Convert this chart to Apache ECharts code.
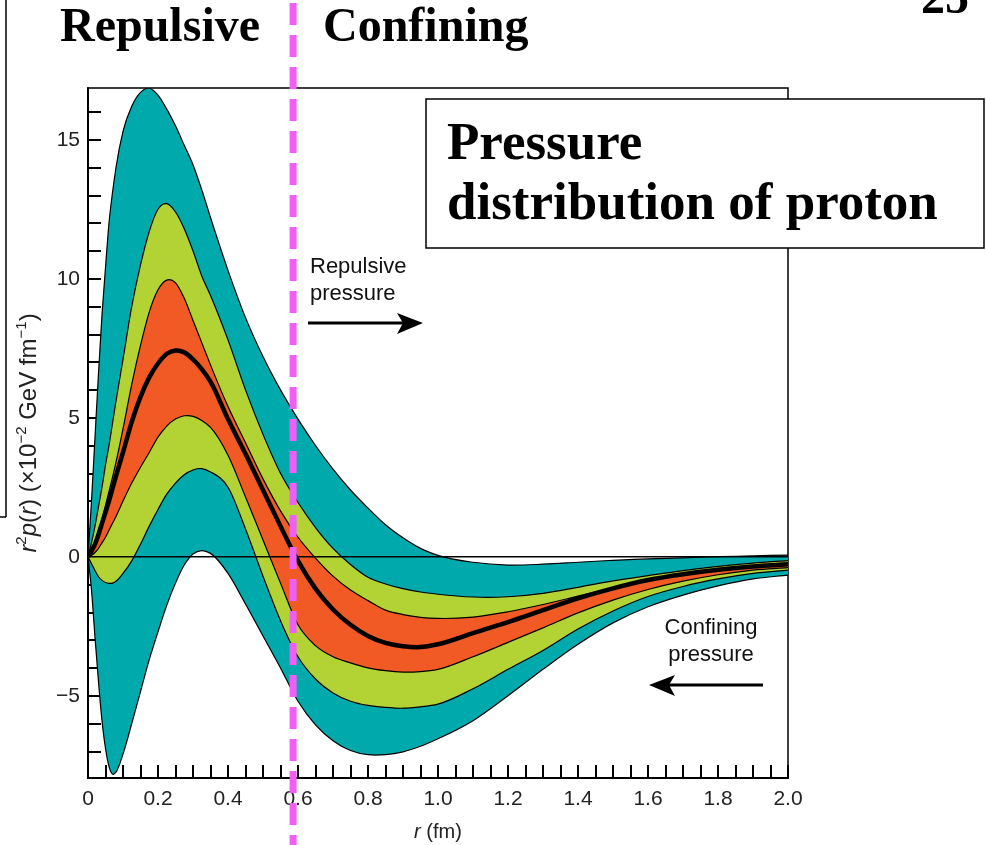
<!DOCTYPE html>
<html>
<head>
<meta charset="utf-8">
<script src="https://cdn.jsdelivr.net/npm/echarts@6/dist/echarts.min.js"></script>
<style>
html,body{margin:0;padding:0;background:#fff;}
#c{width:986px;height:845px;}
</style>
</head>
<body>
<div id="c"></div>
<script>
// ---- data ----
const rGrid = [0, 0.01, 0.02, 0.03, 0.04, 0.05, 0.06, 0.07, 0.08, 0.1, 0.125, 0.15, 0.175, 0.2, 0.225, 0.25, 0.275, 0.3, 0.325, 0.35, 0.4, 0.45, 0.5, 0.55, 0.6, 0.65, 0.7, 0.75, 0.8, 0.85, 0.9, 0.95, 1.0, 1.1, 1.2, 1.3, 1.4, 1.5, 1.6, 1.7, 1.8, 1.9, 2.0];

const tealUpper = [0, 2.0, 4.3, 6.6, 8.7, 10.4, 12.0, 13.1, 14.0, 15.3, 16.2, 16.7, 16.85, 16.6, 16.1, 15.5, 14.8, 14.1, 13.2, 12.2, 10.3, 8.6, 7.2, 6.0, 4.95, 4.0, 3.15, 2.4, 1.75, 1.15, 0.68, 0.3, 0.05, -0.2, -0.3, -0.27, -0.2, -0.13, -0.08, -0.04, 0.0, 0.03, 0.06];
const greenUpper = [0, 0.5, 1.1, 1.8, 2.5, 3.3, 4.0, 4.8, 5.6, 7.1, 9.0, 10.5, 11.7, 12.5, 12.7, 12.4, 11.8, 11.0, 10.1, 9.4, 7.8, 6.0, 4.4, 3.0, 1.95, 1.05, 0.3, -0.28, -0.74, -0.98, -1.15, -1.27, -1.35, -1.45, -1.44, -1.32, -1.1, -0.87, -0.68, -0.5, -0.35, -0.23, -0.14];
const orangeUpper = [0, 0.22, 0.55, 0.95, 1.35, 1.85, 2.35, 2.85, 3.4, 4.6, 6.2, 7.6, 8.8, 9.6, 9.95, 9.85, 9.3, 8.5, 7.7, 6.9, 5.4, 4.1, 2.8, 1.65, 0.7, -0.05, -0.7, -1.2, -1.58, -1.92, -2.08, -2.18, -2.22, -2.17, -1.98, -1.72, -1.42, -1.12, -0.84, -0.62, -0.45, -0.32, -0.22];
const central = [0, 0.2, 0.45, 0.8, 1.2, 1.6, 2.0, 2.45, 2.9, 3.75, 4.85, 5.75, 6.45, 6.95, 7.3, 7.42, 7.35, 7.1, 6.75, 6.3, 4.95, 3.7, 2.4, 1.1, -0.15, -1.15, -1.9, -2.45, -2.85, -3.1, -3.22, -3.25, -3.15, -2.75, -2.35, -1.92, -1.5, -1.14, -0.84, -0.63, -0.47, -0.35, -0.27];
const orangeLower = [0, 0.05, 0.15, 0.3, 0.5, 0.7, 0.95, 1.2, 1.45, 2.0, 2.65, 3.22, 3.75, 4.3, 4.7, 4.95, 5.07, 5.05, 4.9, 4.65, 3.65, 2.15, 0.6, -0.95, -2.45, -3.2, -3.6, -3.82, -4.0, -4.1, -4.15, -4.13, -4.05, -3.6, -3.08, -2.56, -2.02, -1.56, -1.18, -0.88, -0.65, -0.48, -0.39];
const greenLower = [0, -0.25, -0.5, -0.72, -0.85, -0.93, -0.96, -0.95, -0.88, -0.6, -0.15, 0.45, 1.1, 1.7, 2.25, 2.65, 2.95, 3.12, 3.17, 3.05, 2.5, 1.0, -0.7, -2.3, -3.6, -4.4, -4.9, -5.2, -5.35, -5.42, -5.45, -5.4, -5.3, -4.75, -4.05, -3.37, -2.6, -1.95, -1.43, -1.07, -0.8, -0.6, -0.48];
const tealLower = [0, -1.2, -2.9, -4.5, -5.9, -6.9, -7.55, -7.82, -7.75, -7.1, -6.0, -4.85, -3.7, -2.7, -1.75, -0.95, -0.3, 0.1, 0.22, 0.12, -0.6, -1.7, -2.85, -4.0, -5.2, -6.05, -6.62, -6.97, -7.12, -7.12, -7.02, -6.82, -6.55, -5.9, -5.0, -4.05, -3.15, -2.38, -1.8, -1.38, -1.05, -0.8, -0.66];

const xTickLabels = [0, 0.2, 0.4, 0.6, 0.8, 1.0, 1.2, 1.4, 1.6, 1.8, 2.0];
const yTickLabels = [-5, 0, 5, 10, 15];
const yMinorTicks = [-7, -6, -5, -4, -3, -2, -1, 0, 1, 2, 3, 4, 5, 6, 7, 8, 9, 10, 11, 12, 13, 14, 15, 16];
const xMinorTicks = [];
for (let k = 0; k <= 40; k++) xMinorTicks.push(+(k * 0.05).toFixed(2));
const dividerR = 0.586;

// ---- chart ----
const SANS = '"Liberation Sans", Arial, Helvetica, sans-serif';
const SERIF = '"Liberation Serif", "Times New Roman", serif';
const chart = echarts.init(document.getElementById('c'), null, {renderer: 'canvas'});

// smooth curve through pixel points (x monotone), cubic Hermite -> Bezier
function curveSegments(pts) {
  const n = pts.length, m = new Array(n);
  for (let i = 0; i < n; i++) {
    if (i === 0) m[i] = (pts[1][1] - pts[0][1]) / (pts[1][0] - pts[0][0]);
    else if (i === n - 1) m[i] = (pts[i][1] - pts[i - 1][1]) / (pts[i][0] - pts[i - 1][0]);
    else {
      const h0 = pts[i][0] - pts[i - 1][0], h1 = pts[i + 1][0] - pts[i][0];
      const d0 = (pts[i][1] - pts[i - 1][1]) / h0, d1 = (pts[i + 1][1] - pts[i][1]) / h1;
      m[i] = (d0 * h1 + d1 * h0) / (h0 + h1);
    }
  }
  let s = '';
  for (let i = 0; i < n - 1; i++) {
    const h = pts[i + 1][0] - pts[i][0];
    const c1x = pts[i][0] + h / 3, c1y = pts[i][1] + m[i] * h / 3;
    const c2x = pts[i + 1][0] - h / 3, c2y = pts[i + 1][1] - m[i + 1] * h / 3;
    s += ' C' + c1x.toFixed(2) + ',' + c1y.toFixed(2) + ' ' + c2x.toFixed(2) + ',' + c2y.toFixed(2) + ' ' +
         pts[i + 1][0].toFixed(2) + ',' + pts[i + 1][1].toFixed(2);
  }
  return s;
}
function toPx(api, arr) { return rGrid.map((r, i) => api.coord([r, arr[i]])); }
function openPath(p) { return 'M' + p[0][0].toFixed(2) + ',' + p[0][1].toFixed(2) + curveSegments(p); }
function bandPath(up, lo) {
  const loRev = lo.slice().reverse().map(q => [q[0], q[1]]);
  const rev = loRev.map(q => [-q[0], q[1]]);
  const segRev = curveSegments(rev).replace(/(-?\d+\.\d+),(-?\d+\.\d+)/g, (a, x, y) => (-parseFloat(x)).toFixed(2) + ',' + y);
  return openPath(up) + ' L' + loRev[0][0].toFixed(2) + ',' + loRev[0][1].toFixed(2) + segRev + ' Z';
}
function clipRect(params) {
  const c = params.coordSys;
  return {type: 'rect', shape: {x: c.x, y: c.y, width: c.width, height: c.height}};
}
function bandSeries(name, lower, upper, color, z) {
  return {
    type: 'custom', name: name, z: z, silent: true, data: [[0, 0]],
    renderItem: function (params, api) {
      if (params.dataIndex !== 0) return null;
      const up = toPx(api, upper), lo = toPx(api, lower);
      return {type: 'group', clipPath: clipRect(params), children: [
        {type: 'path', shape: {pathData: bandPath(up, lo)}, style: {fill: color, stroke: 'none', lineWidth: 0}},
        {type: 'path', shape: {pathData: openPath(up)}, style: {fill: 'none', stroke: '#000', lineWidth: 1.2}},
        {type: 'path', shape: {pathData: openPath(lo)}, style: {fill: 'none', stroke: '#000', lineWidth: 1.2}}
      ]};
    }
  };
}
function curveSeries(name, values, width, z) {
  return {
    type: 'custom', name: name, z: z, silent: true, data: [[0, 0]],
    renderItem: function (params, api) {
      if (params.dataIndex !== 0) return null;
      const p = toPx(api, values);
      return {type: 'group', clipPath: clipRect(params), children: [
        {type: 'path', shape: {pathData: openPath(p)}, style: {fill: 'none', stroke: '#000', lineWidth: width, lineJoin: 'round'}}
      ]};
    }
  };
}

const option = {
  animation: false,
  grid: {left: 88, right: 198, top: 88, bottom: 67, show: true, borderColor: '#000', borderWidth: 1.5,
         backgroundColor: 'rgba(0,0,0,0)', outerBoundsMode: 'none'},
  xAxis: {
    type: 'value', min: 0, max: 2,
    axisLine: {show: true, onZero: false, lineStyle: {color: '#000', width: 2}},
    axisTick: {show: true, inside: true, length: 13, customValues: xMinorTicks, lineStyle: {color: '#000', width: 2}},
    axisLabel: {customValues: xTickLabels, fontSize: 21, fontFamily: SANS, color: '#222', margin: 11,
                formatter: v => (v === 0 ? '0' : v.toFixed(1))},
    splitLine: {show: false},
    name: '{i|r} (fm)', nameLocation: 'middle', nameGap: 44,
    nameTextStyle: {fontSize: 20, fontFamily: SANS, color: '#222', rich: {i: {fontStyle: 'italic', fontSize: 20, fontFamily: SANS, color: '#222'}}}
  },
  yAxis: {
    type: 'value', min: -7.96, max: 16.86,
    axisLine: {show: true, onZero: false, lineStyle: {color: '#000', width: 2}},
    axisTick: {show: true, inside: true, length: 13, customValues: yMinorTicks, lineStyle: {color: '#000', width: 2}},
    axisLabel: {customValues: yTickLabels, fontSize: 21, fontFamily: SANS, color: '#222', margin: 8,
                formatter: v => (v < 0 ? '\u2212' + Math.abs(v) : String(v))},
    splitLine: {show: false},
    name: '{i|r}{s|2}{i|p}({i|r}) (\u00d710{s|\u22122} GeV fm{s|\u22121})',
    nameLocation: 'middle', nameGap: 42, nameRotate: 90,
    nameTextStyle: {fontSize: 24, fontFamily: SANS, color: '#222', lineHeight: 31,
      rich: {
        i: {fontStyle: 'italic', fontSize: 24, fontFamily: SANS, color: '#222', lineHeight: 31},
        s: {fontSize: 15, fontFamily: SANS, color: '#222', lineHeight: 15, verticalAlign: 'top'}
      }}
  },
  series: [
    bandSeries('teal', tealLower, tealUpper, '#00A9AC', 2),
    bandSeries('green', greenLower, greenUpper, '#B3D335', 3),
    bandSeries('orange', orangeLower, orangeUpper, '#F15A24', 4),
    curveSeries('central', central, 4.5, 5),
    {type: 'line', name: 'zero', data: [[0, 0], [2, 0]], symbol: 'none',
     lineStyle: {color: '#000', width: 1.5}, z: 6, silent: true}
  ]
};
chart.setOption(option);

// ---- annotations ----
const dx = chart.convertToPixel({xAxisIndex: 0}, dividerR);
function txt(text, x, y, font, align) {
  return {type: 'text', z: 100, silent: true,
    style: {text: text, x: x, y: y, font: font, fill: '#000', align: align || 'left', verticalAlign: 'middle'}};
}
const headSerif = 'bold 48px ' + SERIF;
const boxSerif = 'bold 53px ' + SERIF;
const note = '22px ' + SANS;
chart.setOption({
  graphic: [
    {type: 'line', z: 100, silent: true, shape: {x1: 6, y1: 0, x2: 6, y2: 517}, style: {stroke: '#000', lineWidth: 1.5}},
    {type: 'line', z: 100, silent: true, shape: {x1: 0, y1: 517, x2: 6, y2: 517}, style: {stroke: '#000', lineWidth: 1.5}},
    txt('Repulsive', 60, 29, headSerif),
    txt('Confining', 323, 29, headSerif),
    txt('25', 921, 1, headSerif),
    {type: 'rect', z: 100, silent: true, shape: {x: 426, y: 99, width: 558, height: 149},
     style: {fill: '#fff', stroke: '#000', lineWidth: 1.5}},
    txt('Pressure', 447, 145, boxSerif),
    txt('distribution of proton', 447, 205, boxSerif),
    {type: 'text', z: 100, silent: true, style: {text: 'Repulsive', x: 310, y: 267, font: note, fill: '#111', align: 'left', verticalAlign: 'middle'}},
    {type: 'text', z: 100, silent: true, style: {text: 'pressure', x: 310, y: 294, font: note, fill: '#111', align: 'left', verticalAlign: 'middle'}},
    {type: 'line', z: 100, silent: true, shape: {x1: 308, y1: 323, x2: 404, y2: 323}, style: {stroke: '#000', lineWidth: 3}},
    {type: 'polygon', z: 100, silent: true, shape: {points: [[423, 323], [397, 313], [403, 323], [397, 334]]}, style: {fill: '#000'}},
    {type: 'text', z: 100, silent: true, style: {text: 'Confining', x: 711, y: 628, font: note, fill: '#111', align: 'center', verticalAlign: 'middle'}},
    {type: 'text', z: 100, silent: true, style: {text: 'pressure', x: 711, y: 655, font: note, fill: '#111', align: 'center', verticalAlign: 'middle'}},
    {type: 'line', z: 100, silent: true, shape: {x1: 668, y1: 685, x2: 763, y2: 685}, style: {stroke: '#000', lineWidth: 3}},
    {type: 'polygon', z: 100, silent: true, shape: {points: [[649, 685], [675, 675], [669, 685], [675, 696]]}, style: {fill: '#000'}},
    {type: 'line', z: 120, silent: true, shape: {x1: dx, y1: 0, x2: dx, y2: 845},
     style: {stroke: '#EF5EF5', lineWidth: 7, lineDash: [22, 10], lineDashOffset: -3}}
  ]
});
</script>
</body>
</html>
